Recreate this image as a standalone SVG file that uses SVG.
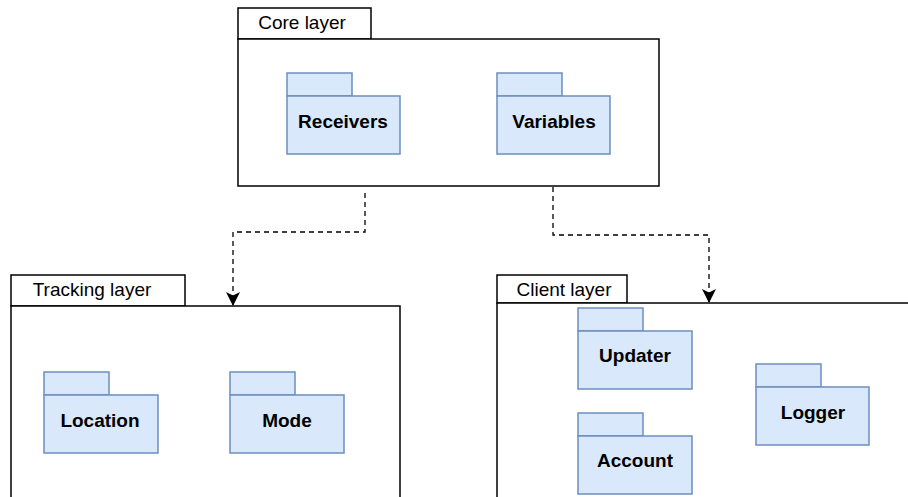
<svg xmlns="http://www.w3.org/2000/svg" width="908" height="497" viewBox="0 0 908 497">
<style>
.layer{fill:#fff;stroke:#000;stroke-width:1.5}
.pkg{fill:#dae8fc;stroke:#6c8ebf;stroke-width:1.5}
.lt{font-family:"Liberation Sans",Arial,sans-serif;font-size:19px;fill:#000;text-anchor:middle}
.pt{font-family:"Liberation Sans",Arial,sans-serif;font-size:19px;font-weight:bold;fill:#000;text-anchor:middle}
.conn{fill:none;stroke:#000;stroke-width:1.3;stroke-dasharray:5 4}
</style>
<defs>
<marker id="arr" viewBox="0 0 14 14" refX="13" refY="7" markerWidth="14" markerHeight="14" markerUnits="userSpaceOnUse" orient="auto">
<path d="M0,0 L14,7 L0,14 L3.5,7 Z" fill="#000"/>
</marker>
</defs>
<g id="core-layer">
<rect class="layer" x="238" y="8" width="133" height="31"/>
<rect class="layer" x="238" y="39" width="421" height="147"/>
<text class="lt" x="302" y="29">Core layer</text>
</g>
<g id="receivers">
<rect class="pkg" x="287" y="73" width="65" height="23"/>
<rect class="pkg" x="287" y="96" width="113" height="58"/>
<text class="pt" x="343" y="128">Receivers</text>
</g>
<g id="variables">
<rect class="pkg" x="497" y="73" width="65" height="23"/>
<rect class="pkg" x="497" y="96" width="113" height="58"/>
<text class="pt" x="554" y="128">Variables</text>
</g>
<g id="tracking-layer">
<rect class="layer" x="11" y="275" width="174" height="31"/>
<rect class="layer" x="11" y="306" width="389" height="200"/>
<text class="lt" x="92" y="296">Tracking layer</text>
</g>
<g id="location">
<rect class="pkg" x="44" y="372" width="65" height="23"/>
<rect class="pkg" x="44" y="395" width="114" height="58"/>
<text class="pt" x="100" y="427">Location</text>
</g>
<g id="mode">
<rect class="pkg" x="230" y="372" width="65" height="23"/>
<rect class="pkg" x="230" y="395" width="114" height="58"/>
<text class="pt" x="287" y="427">Mode</text>
</g>
<g id="client-layer">
<rect class="layer" x="497" y="275" width="130" height="28"/>
<rect class="layer" x="497" y="303" width="420" height="200"/>
<text class="lt" x="564" y="296">Client layer</text>
</g>
<g id="updater">
<rect class="pkg" x="578" y="308" width="65" height="23"/>
<rect class="pkg" x="578" y="331" width="114" height="58"/>
<text class="pt" x="635" y="362">Updater</text>
</g>
<g id="account">
<rect class="pkg" x="578" y="413" width="65" height="23"/>
<rect class="pkg" x="578" y="436" width="114" height="58"/>
<text class="pt" x="635" y="467">Account</text>
</g>
<g id="logger">
<rect class="pkg" x="756" y="364" width="65" height="23"/>
<rect class="pkg" x="756" y="387" width="113" height="58"/>
<text class="pt" x="813" y="419">Logger</text>
</g>
<g id="connectors">
<path class="conn" d="M365,193 V232 H233 V305" marker-end="url(#arr)"/>
<path class="conn" d="M553,187 V235 H709 V302" marker-end="url(#arr)"/>
</g>
</svg>
